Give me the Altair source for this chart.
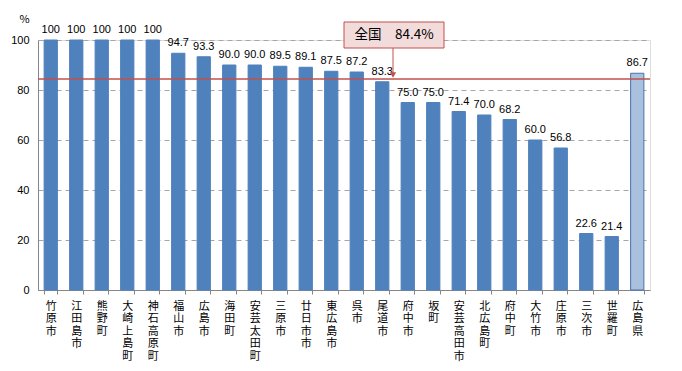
import altair as alt
import pandas as pd

names = ["竹原市", "江田島市", "熊野町", "大崎上島町", "神石高原町", "福山市", "広島市",
         "海田町", "安芸太田町", "三原市", "廿日市市", "東広島市", "呉市", "尾道市",
         "府中市", "坂町", "安芸高田市", "北広島町", "府中町", "大竹市", "庄原市",
         "三次市", "世羅町", "広島県"]
values = [100, 100, 100, 100, 100, 94.7, 93.3, 90.0, 90.0, 89.5, 89.1, 87.5, 87.2,
          83.3, 75.0, 75.0, 71.4, 70.0, 68.2, 60.0, 56.8, 22.6, 21.4, 86.7]
kinds = ["市町"] * 23 + ["県"]
national = 84.4
national_label = "全国　84.4%"

df = pd.DataFrame({
    "name": names,
    "value": values,
    "kind": kinds,
    "label": ["100" if v == 100 else f"{v:.1f}" for v in values],
})

JP = "Noto Sans CJK JP"
NUM = "Liberation Sans"

xenc = alt.X(
    "name:N", sort=names, title=None,
    scale=alt.Scale(paddingInner=0.48, paddingOuter=0.24),
    axis=alt.Axis(
        labelAngle=0, labelExpr="split(datum.label, '')",
        labelFont=JP, labelFontSize=11, labelLineHeight=12.5, labelColor="#000000",
        labelBaseline="top", labelPadding=6,
        tickBand="extent", tickSize=4, tickColor="#868686",
        domainColor="#868686", grid=False,
    ),
)

yscale = alt.Scale(domain=[0, 100], nice=False)

bars = alt.Chart(df).mark_bar(strokeWidth=1).encode(
    x=xenc,
    y=alt.Y(
        "value:Q", scale=yscale,
        axis=alt.Axis(
            values=[0, 20, 40, 60, 80, 100], title="%", titleAngle=0,
            titleX=-14, titleY=-21, titleAlign="center", titleBaseline="middle",
            titleFont=JP, titleFontSize=11, titleFontWeight="normal", titleColor="#000000",
            labelFont=NUM, labelFontSize=11, labelColor="#000000", labelPadding=9,
            ticks=False, domainColor="#868686",
            grid=True, gridDash=[5, 4], gridColor="#a6a6a6",
        ),
    ),
    fill=alt.condition(alt.datum.kind == "県", alt.value("#a9c1df"), alt.value("#4f81bd")),
    stroke=alt.condition(alt.datum.kind == "県", alt.value("#4a72a8"), alt.value("#4f81bd")),
)

labels = alt.Chart(df).mark_text(
    baseline="bottom", dy=-5, font=NUM, fontSize=11, color="#000000"
).encode(x=alt.X("name:N", sort=names), y=alt.Y("value:Q", scale=yscale), text="label:N")

nat_df = pd.DataFrame({"v": [national], "t": [national_label]})

nat_line = alt.Chart(nat_df).mark_rule(color="#c0504d", strokeWidth=1.3).encode(
    y=alt.Y("v:Q", scale=yscale)
)

box = alt.Chart(nat_df).mark_rect(fill="#f2dcdb", stroke="#c0504d", strokeWidth=1).encode(
    x=alt.value(306), x2=alt.value(406), y=alt.value(-18), y2=alt.value(8)
)
box_text = alt.Chart(nat_df).mark_text(
    font=JP, fontSize=13.5, color="#000000", baseline="middle", align="center"
).encode(x=alt.value(356), y=alt.value(-5), text="t:N")

arrow = alt.Chart(nat_df).mark_rule(color="#c0504d", strokeWidth=1).encode(
    x=alt.value(355), y=alt.value(8), y2=alt.value(36)
)
arrow_head = alt.Chart(nat_df).mark_point(
    shape="triangle-down", filled=True, color="#c0504d", size=40, opacity=1
).encode(x=alt.value(355), y=alt.value(35))

chart = alt.layer(bars, labels, nat_line, arrow, arrow_head, box, box_text).properties(
    width=612, height=250,
    autosize=alt.AutoSizeParams(type="none"),
    padding={"left": 30, "top": 32, "right": 22, "bottom": 75},
).configure_view(stroke=None).configure(background="white")

chart.save("out.html", embed_options={"renderer": "svg", "actions": False})
